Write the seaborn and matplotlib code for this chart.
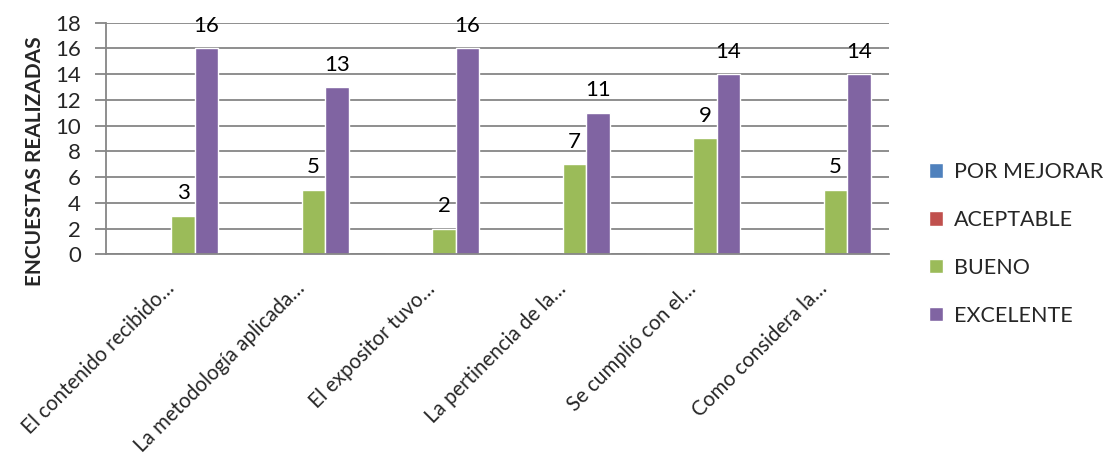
import matplotlib
matplotlib.use("Agg")
import matplotlib.pyplot as plt
import seaborn as sns
import pandas as pd

categories = ["El contenido recibido…", "La metodología aplicada…", "El expositor tuvo…",
              "La pertinencia de la…", "Se cumplió con el…", "Como considera la…"]
por_mejorar = [0, 0, 0, 0, 0, 0]
aceptable = [0, 0, 0, 0, 0, 0]
bueno = [3, 5, 2, 7, 9, 5]
excelente = [16, 13, 16, 11, 14, 14]
series_names = ["POR MEJORAR", "ACEPTABLE", "BUENO", "EXCELENTE"]
colors = ["#4F81BD", "#C0504D", "#9BBB59", "#8064A2"]

rows = []
for name, vals in zip(series_names, [por_mejorar, aceptable, bueno, excelente]):
    for c, v in zip(categories, vals):
        rows.append({"cat": c, "serie": name, "val": v})
df = pd.DataFrame(rows)

sns.set_style("white")
plt.rcParams["font.family"] = ["Lato", "DejaVu Sans"]

fig = plt.figure(figsize=(11.12, 4.69), dpi=100)
ax = fig.add_axes([106/1112, 1-254.3/469, (889-106)/1112, (254.3-22.7)/469])

sns.barplot(data=df, x="cat", y="val", hue="serie", order=categories,
            hue_order=series_names, palette=colors, width=0.72, ax=ax,
            saturation=1, errorbar=None, legend=True)

for container, name in zip(ax.containers, series_names):
    labels = [f"{int(v)}" if v > 0 else "" for v in container.datavalues]
    ax.bar_label(container, labels=labels, padding=9, fontsize=16, color="black")

ax.set_ylim(0, 18)
ax.set_yticks(range(0, 19, 2))
ax.set_xlim(-0.5, 5.5)
ax.yaxis.grid(True, color="#868686", linewidth=1.3)
ax.set_axisbelow(True)
for s in ["top", "right"]:
    ax.spines[s].set_visible(False)
for s in ["left", "bottom"]:
    ax.spines[s].set_color("#868686")
    ax.spines[s].set_linewidth(1.3)
ax.tick_params(axis="y", which="both", left=True, length=8, width=1.3, color="#868686",
               labelsize=16, pad=10)
ax.tick_params(axis="x", bottom=False, labelsize=14.8, pad=19)
plt.setp(ax.get_xticklabels(), rotation=45, ha="right", va="center", rotation_mode="anchor")

ax.set_xlabel("")
ax.set_ylabel("ENCUESTAS REALIZADAS", fontsize=15, fontweight="bold")
ax.yaxis.set_label_coords(-0.078, 0.40)

handles, labels = ax.get_legend_handles_labels()
ax.legend(handles, labels, loc="center left", bbox_to_anchor=(1.04, 0.045),
          frameon=False, fontsize=15.5, handlelength=0.65, handleheight=0.65,
          handletextpad=0.5, labelspacing=1.3, borderaxespad=0)

fig.savefig("out.png", dpi=100)
